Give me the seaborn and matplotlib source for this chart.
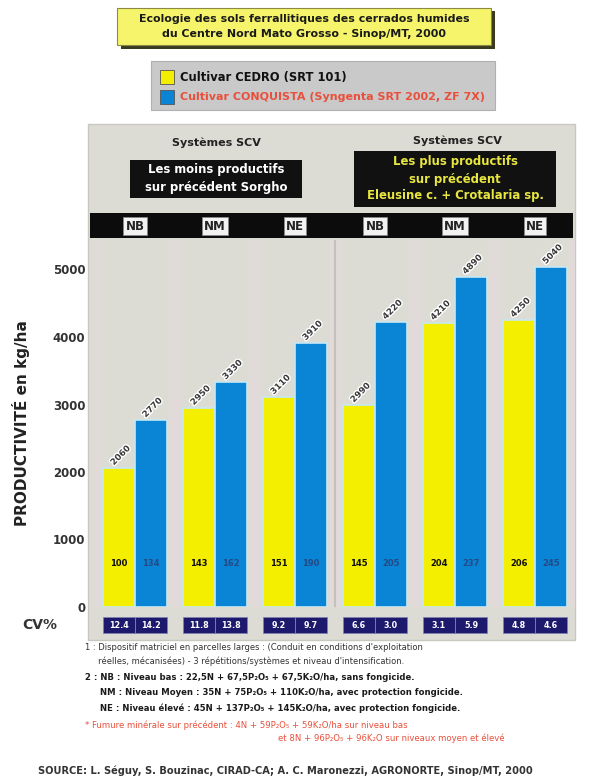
import matplotlib
matplotlib.use("Agg")
import matplotlib.pyplot as plt
import matplotlib.patches as mpatches
import matplotlib.patheffects as pe
import matplotlib.transforms as mtrans
import numpy as np
import pandas as pd
import seaborn as sns

# ---- data -------------------------------------------------------------
levels = ["NB", "NM", "NE", "NB", "NM", "NE"]
groups = ["Sorgho NB", "Sorgho NM", "Sorgho NE",
          "Eleusine NB", "Eleusine NM", "Eleusine NE"]
cultivars = ["Cultivar CEDRO (SRT 101)",
             "Cultivar CONQUISTA (Syngenta SRT 2002, ZF 7X)"]
yield_cedro = [2060, 2950, 3110, 2990, 4210, 4250]
yield_conquista = [2770, 3330, 3910, 4220, 4890, 5040]
cv_cedro = ["12.4", "11.8", "9.2", "6.6", "3.1", "4.8"]
cv_conquista = ["14.2", "13.8", "9.7", "3.0", "5.9", "4.6"]
yticks = [0, 1000, 2000, 3000, 4000, 5000]

title_lines = ["Ecologie des sols ferrallitiques des cerrados humides",
               "du Centre Nord Mato Grosso - Sinop/MT, 2000"]
header_left = ["Les moins productifs", "sur précédent Sorgho"]
header_right = ["Les plus productifs", "sur précédent",
                "Eleusine c. + Crotalaria sp."]
notes = [
    "1 : Dispositif matriciel en parcelles larges : (Conduit en conditions d'exploitation",
    "     réelles, mécanisées) - 3 répétitions/systèmes et niveau d'intensification.",
]
levels_notes = [
    "2 : NB : Niveau bas : 22,5N + 67,5P\u2082O\u2085 + 67,5K\u2082O/ha, sans fongicide.",
    "     NM : Niveau Moyen : 35N + 75P\u2082O\u2085 + 110K\u2082O/ha, avec protection fongicide.",
    "     NE : Niveau élevé : 45N + 137P\u2082O\u2085 + 145K\u2082O/ha, avec protection fongicide.",
]
red_notes = [
    "* Fumure minérale sur précédent : 4N + 59P\u2082O\u2085 + 59K\u2082O/ha sur niveau bas",
    "et 8N + 96P\u2082O\u2085 + 96K\u2082O sur niveaux moyen et élevé",
]
source = "SOURCE: L. Séguy, S. Bouzinac, CIRAD-CA; A. C. Maronezzi, AGRONORTE, Sinop/MT, 2000"

df = pd.DataFrame({
    "group": groups * 2,
    "cultivar": [cultivars[0]] * 6 + [cultivars[1]] * 6,
    "yield": yield_cedro + yield_conquista,
})

# ---- figure -----------------------------------------------------------
W, H = 603, 780
sns.set_theme(style="white")
plt.rcParams["font.family"] = ["DejaVu Sans"]
fig = plt.figure(figsize=(W / 100, H / 100), dpi=100)
fig.patch.set_facecolor("white")


def fx(px):
    return px / W


def fy(py):
    return 1 - py / H


YELLOW = "#f4ee00"
BLUE = "#0a84d4"
PANEL = "#dddcd4"
NAVY = "#1d1a6e"

# grey panel behind the chart
fig.patches.append(mpatches.Rectangle((fx(88), fy(640)), fx(575) - fx(88),
                                      fy(124) - fy(640), transform=fig.transFigure,
                                      facecolor=PANEL, edgecolor="#c8c8c0", lw=1, zorder=-1))

# title box with shadow
fig.patches.append(mpatches.Rectangle((fx(121), fy(49)), fx(374), fy(10) - fy(48),
                                      transform=fig.transFigure, facecolor="#3a3a20",
                                      edgecolor="none", zorder=1))
fig.patches.append(mpatches.Rectangle((fx(117), fy(45)), fx(374), fy(8) - fy(45),
                                      transform=fig.transFigure, facecolor="#f6f46a",
                                      edgecolor="#8a8a40", lw=0.8, zorder=2))
fig.text(fx(304), fy(19), title_lines[0], ha="center", va="center", fontsize=7.9,
         fontweight="bold", color="#1a1a1a", zorder=3)
fig.text(fx(304), fy(34), title_lines[1], ha="center", va="center", fontsize=7.9,
         fontweight="bold", color="#1a1a1a", zorder=3)

# legend box
fig.patches.append(mpatches.Rectangle((fx(151), fy(110)), fx(495) - fx(151),
                                      fy(61) - fy(110), transform=fig.transFigure,
                                      facecolor="#c9c9c9", edgecolor="#b0b0b0", lw=0.8,
                                      zorder=1))
fig.patches.append(mpatches.Rectangle((fx(160), fy(84)), fx(14), fy(70) - fy(84),
                                      transform=fig.transFigure, facecolor=YELLOW,
                                      edgecolor="#555", lw=0.6, zorder=2))
fig.patches.append(mpatches.Rectangle((fx(160), fy(104)), fx(14), fy(90) - fy(104),
                                      transform=fig.transFigure, facecolor=BLUE,
                                      edgecolor="#555", lw=0.6, zorder=2))
fig.text(fx(180), fy(77), cultivars[0], ha="left", va="center", fontsize=8.3,
         fontweight="bold", color="#111")
fig.text(fx(180), fy(97), cultivars[1], ha="left", va="center", fontsize=8.0,
         fontweight="bold", color="#e8503c")

# ---- main axes --------------------------------------------------------
ax_left, ax_right = 95, 575
ax_top, ax_bottom = 240, 607
ymax = (ax_bottom - ax_top) / 67.5 * 1000
ax = fig.add_axes([fx(ax_left), fy(ax_bottom), fx(ax_right) - fx(ax_left),
                   fy(ax_top) - fy(ax_bottom)])
ax.set_facecolor(PANEL)

# faint bands in the gaps between groups
for g in np.arange(-0.5, 6.0, 1.0):
    ax.axvspan(g - 0.08, g + 0.08, color="#e1dad8", lw=0, zorder=0)

sns.barplot(data=df, x="group", y="yield", hue="cultivar", order=groups,
            hue_order=cultivars, palette=[YELLOW, BLUE], width=0.8, ax=ax,
            edgecolor="#c6e8f4", linewidth=1.2, saturation=1, legend=False)

ax.set_xlim(-0.5, 5.5)
ax.set_ylim(0, ymax)
ax.set_yticks(yticks)
ax.set_yticklabels([str(t) for t in yticks], fontsize=8.5, fontweight="bold",
                   color="#333")
ax.tick_params(axis="y", length=3, color="#888", pad=4)
ax.set_xticks([])
ax.set_xlabel("")
ax.set_ylabel("PRODUCTIVITÉ en kg/ha", fontsize=11, fontweight="bold",
              color="#222", labelpad=16)
for s in ax.spines.values():
    s.set_visible(False)

# separator between the two groups of systems
ax.axvline(2.5, color="#c2c2ba", lw=1.5, zorder=0)

# value labels, index labels and CV% boxes
halo = [pe.withStroke(linewidth=2, foreground="white")]
cv_trans = mtrans.blended_transform_factory(ax.transData, ax.transAxes)
box_h = 16 / (ax_bottom - ax_top)
box_y = -(10 + 16) / (ax_bottom - ax_top)
for i in range(6):
    for j, (vals, cvs) in enumerate([(yield_cedro, cv_cedro),
                                     (yield_conquista, cv_conquista)]):
        xc = i - 0.2 + 0.4 * j
        v = vals[i]
        ax.annotate(f"{v}", (xc, v), xytext=(1, 9), textcoords="offset points",
                    rotation=45, ha="center", va="center", fontsize=6.2,
                    fontweight="bold", color="#3a3a3a", path_effects=halo)
        idx = round(v / yield_cedro[0] * 100)
        ax.text(xc, 650, f"{idx}", ha="center", va="center", fontsize=6,
                fontweight="bold", color="#111" if j == 0 else "#244a86")
        ax.add_patch(mpatches.Rectangle((xc - 0.2, box_y), 0.4, box_h,
                                        transform=cv_trans, facecolor=NAVY,
                                        edgecolor="#8080b0", lw=0.6, clip_on=False))
        ax.text(xc, box_y + box_h / 2, cvs[i], transform=cv_trans, ha="center",
                va="center", fontsize=5.8, fontweight="bold", color="white",
                clip_on=False)

fig.text(fx(40), fy(625), "CV%", ha="center", va="center", fontsize=10,
         fontweight="bold", color="#333")

# ---- header of the panel ---------------------------------------------
fig.text(fx(216), fy(143), "Systèmes SCV", ha="center", va="center", fontsize=8,
         fontweight="bold", color="#222")
fig.text(fx(457), fy(141), "Systèmes SCV", ha="center", va="center", fontsize=8,
         fontweight="bold", color="#222")
fig.patches.append(mpatches.Rectangle((fx(130), fy(198)), fx(302) - fx(130),
                                      fy(160) - fy(198), transform=fig.transFigure,
                                      facecolor="#111", edgecolor="none", zorder=1))
fig.text(fx(216), fy(170), header_left[0], ha="center", va="center", fontsize=8.4,
         fontweight="bold", color="white")
fig.text(fx(216), fy(187), header_left[1], ha="center", va="center", fontsize=8.4,
         fontweight="bold", color="white")
fig.patches.append(mpatches.Rectangle((fx(354), fy(207)), fx(556) - fx(354),
                                      fy(151) - fy(207), transform=fig.transFigure,
                                      facecolor="#111", edgecolor="none", zorder=1))
for k, line in enumerate(header_right):
    fig.text(fx(455), fy(162 + 17 * k), line, ha="center", va="center", fontsize=8.4,
             fontweight="bold", color="#e8e640")

# black band with level boxes
fig.patches.append(mpatches.Rectangle((fx(90), fy(238)), fx(573) - fx(90),
                                      fy(213) - fy(238), transform=fig.transFigure,
                                      facecolor="#0c0c0c", edgecolor="none", zorder=1))
for i, lev in enumerate(levels):
    xc = ax_left + (i + 0.5) * (ax_right - ax_left) / 6
    fig.text(fx(xc), fy(226), lev, ha="center", va="center", fontsize=8.5,
             fontweight="bold", color="#222",
             bbox=dict(boxstyle="square,pad=0.2", facecolor="#f2f2f2",
                       edgecolor="#888", lw=0.6))

# ---- footnotes --------------------------------------------------------
fig.text(fx(85), fy(648), notes[0], ha="left", va="center", fontsize=6.0, color="#333")
fig.text(fx(85), fy(661), notes[1], ha="left", va="center", fontsize=6.0, color="#333")
for k, line in enumerate(levels_notes):
    fig.text(fx(85), fy(677 + 15.5 * k), line, ha="left", va="center", fontsize=6.1,
             fontweight="bold", color="#1a1a1a")
fig.text(fx(85), fy(725), red_notes[0], ha="left", va="center", fontsize=6.1,
         color="#e8503c")
fig.text(fx(505), fy(738), red_notes[1], ha="right", va="center", fontsize=6.1,
         color="#e8503c")
fig.text(fx(38), fy(771), source, ha="left", va="center", fontsize=7.1,
         fontweight="bold", color="#333")

fig.savefig("out.png", dpi=100, facecolor="white")
